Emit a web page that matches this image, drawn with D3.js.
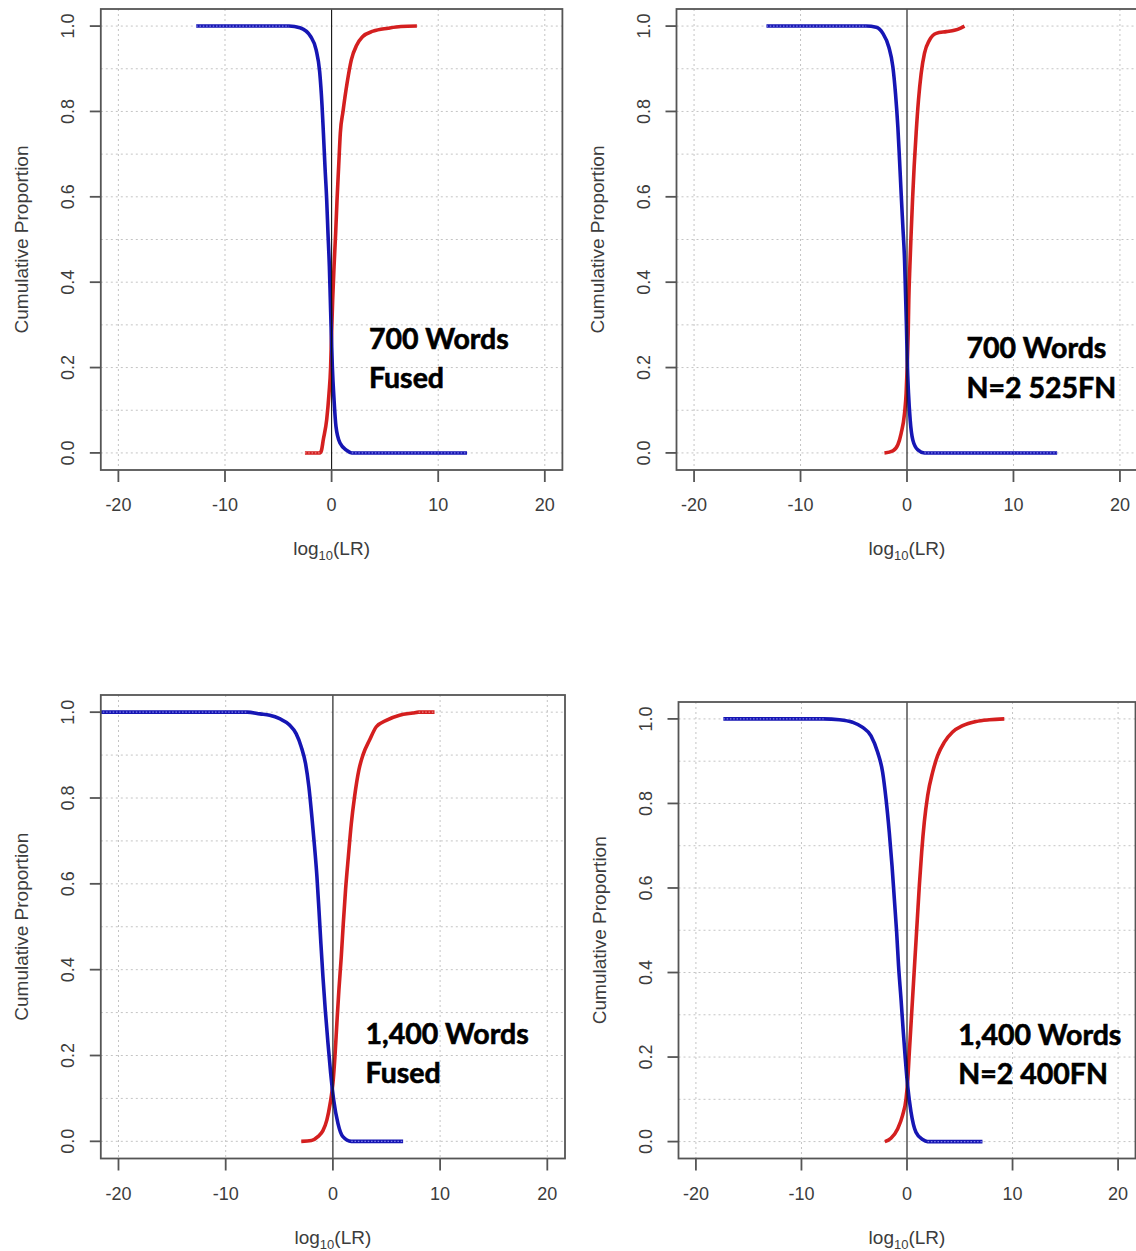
<!DOCTYPE html>
<html>
<head>
<meta charset="utf-8">
<script src="https://cdn.jsdelivr.net/npm/d3@7"></script>
<style>
  html, body { margin: 0; padding: 0; background: #fff; }
  svg { display: block; }
</style>
</head>
<body>
<svg id="chart" width="1136" height="1251"></svg>
<script>
// ---------- data ----------
const xTicks = [-20, -10, 0, 10, 20];
const yTicks = [0, 0.2, 0.4, 0.6, 0.8, 1.0];
const yGrid = [0, 0.1, 0.2, 0.3, 0.4, 0.5, 0.6, 0.7, 0.8, 0.9, 1.0];
const xGrid = [-20, -10, 10, 20];

const titles = [
  ["700 Words", "Fused"],
  ["700 Words", "N=2 525FN"],
  ["1,400 Words", "Fused"],
  ["1,400 Words", "N=2 400FN"]
];

const p1Blue = [[-12.7,1],[-4.0,1],[-2.97,0.996],[-1.95,0.975],[-1.45,0.944],[-1.12,0.893],[-0.9,0.815],[-0.77,0.75],[-0.62,0.67],[-0.46,0.593],[-0.34,0.515],[-0.21,0.437],[-0.12,0.359],[-0.03,0.28],[0.07,0.202],[0.23,0.124],[0.41,0.062],[0.79,0.023],[1.42,0.006],[1.89,0],[12.7,0]];
const p1Red  = [[-2.5,0],[-1.1,0],[-0.95,0.006],[-0.78,0.031],[-0.46,0.078],[-0.24,0.14],[-0.09,0.202],[0,0.28],[0.1,0.359],[0.23,0.437],[0.38,0.515],[0.51,0.593],[0.66,0.67],[0.82,0.75],[1.07,0.8],[1.45,0.866],[1.85,0.921],[2.35,0.955],[2.9,0.975],[3.9,0.988],[5.3,0.995],[6.5,0.999],[8.0,1]];

const p2Blue = [[-13.2,1],[-3.83,1],[-2.9,0.997],[-2.27,0.983],[-1.71,0.951],[-1.33,0.905],[-1.08,0.842],[-0.86,0.764],[-0.7,0.686],[-0.55,0.608],[-0.39,0.53],[-0.23,0.452],[-0.14,0.374],[-0.05,0.296],[0.02,0.218],[0.14,0.14],[0.3,0.077],[0.55,0.03],[1.02,0.007],[1.64,0],[14.1,0]];
const p2Red  = [[-2.12,0],[-1.33,0.005],[-0.86,0.019],[-0.55,0.046],[-0.23,0.093],[-0.08,0.14],[0.02,0.202],[0.11,0.28],[0.17,0.359],[0.27,0.437],[0.39,0.515],[0.52,0.593],[0.67,0.67],[0.86,0.75],[1.08,0.827],[1.33,0.889],[1.64,0.936],[2.11,0.967],[2.74,0.983],[3.68,0.987],[4.46,0.99],[5.09,0.996],[5.4,1]];

const p3Blue = [[-23,1],[-8.0,1],[-6.8,0.996],[-5.9,0.993],[-4.97,0.985],[-4.04,0.97],[-3.43,0.95],[-2.95,0.919],[-2.55,0.88],[-2.24,0.826],[-1.96,0.756],[-1.71,0.686],[-1.49,0.617],[-1.3,0.539],[-1.12,0.461],[-0.93,0.384],[-0.71,0.306],[-0.46,0.229],[-0.21,0.159],[0.07,0.097],[0.47,0.042],[0.93,0.011],[1.71,0],[6.55,0]];
const p3Red  = [[-2.95,0],[-2.0,0.002],[-1.4,0.011],[-0.93,0.025],[-0.56,0.05],[-0.25,0.089],[0,0.135],[0.19,0.197],[0.37,0.275],[0.56,0.353],[0.78,0.43],[0.97,0.508],[1.18,0.586],[1.44,0.663],[1.72,0.741],[2.02,0.803],[2.42,0.865],[2.8,0.9],[3.42,0.935],[4.05,0.966],[4.98,0.981],[6.22,0.993],[7.46,0.998],[8.0,1],[9.48,1]];

const p4Blue = [[-17.4,1],[-7.9,1],[-6.4,0.998],[-5.16,0.992],[-4.2,0.98],[-3.41,0.96],[-2.78,0.921],[-2.31,0.874],[-1.99,0.811],[-1.68,0.732],[-1.42,0.653],[-1.2,0.574],[-0.98,0.495],[-0.8,0.416],[-0.57,0.338],[-0.35,0.259],[-0.16,0.196],[0.06,0.132],[0.38,0.07],[0.85,0.022],[1.48,0.005],[1.95,0],[7.15,0]];
const p4Red  = [[-2.1,0],[-1.52,0.008],[-0.89,0.03],[-0.42,0.062],[-0.09,0.101],[0.06,0.141],[0.22,0.211],[0.41,0.29],[0.6,0.369],[0.79,0.448],[0.98,0.527],[1.17,0.606],[1.39,0.685],[1.64,0.756],[1.96,0.819],[2.43,0.874],[2.9,0.913],[3.54,0.945],[4.32,0.969],[5.27,0.984],[6.54,0.994],[7.8,0.998],[9.22,1]];

// annotation anchor in data units [x, y line1, y line2]
const notePos = [[3.5,0.244,0.152],[5.59,0.222,0.129],[3.05,0.227,0.136],[4.86,0.229,0.137]];

// ---------- layout ----------
const xDomain = [-21.65, 21.65];
const yDomain = [-0.04, 1.04];
const panels = [
  {left:100.8, top:9,   w:461.6, h:461,   blue:p1Blue, red:p1Red},
  {left:676.5, top:9,   w:461,   h:461,   blue:p2Blue, red:p2Red},
  {left:100.8, top:695, w:464.2, h:463.5, blue:p3Blue, red:p3Red},
  {left:678.5, top:702, w:457,   h:456.5, blue:p4Blue, red:p4Red}
];

const BLUE = "#1616b4", BLUE_L = "#8c8cf0";
const RED = "#d41f1f", RED_L = "#f09090";
const AXC = "#555";
const TXT = "#3c3c3c";
const FONT = "'Liberation Sans', Arial, sans-serif";

const svg = d3.select("#chart");
svg.append("rect").attr("width",1136).attr("height",1251).attr("fill","#fff");

panels.forEach((p, i) => {
  const x = d3.scaleLinear().domain(xDomain).range([p.left, p.left + p.w]);
  const y = d3.scaleLinear().domain(yDomain).range([p.top + p.h, p.top]);
  const g = svg.append("g");

  const clipId = "clip" + i;
  svg.append("clipPath").attr("id", clipId)
    .append("rect").attr("x", p.left).attr("y", p.top).attr("width", p.w).attr("height", p.h);

  // grid
  g.append("g").selectAll("line.hg").data(yGrid).join("line")
    .attr("x1", p.left).attr("x2", p.left + p.w)
    .attr("y1", d => y(d)).attr("y2", d => y(d))
    .attr("stroke", "#c4c4c4").attr("stroke-width", 1).attr("stroke-dasharray", "2,3");
  g.append("g").selectAll("line.vg").data(xGrid).join("line")
    .attr("x1", d => x(d)).attr("x2", d => x(d))
    .attr("y1", p.top).attr("y2", p.top + p.h)
    .attr("stroke", "#c4c4c4").attr("stroke-width", 1).attr("stroke-dasharray", "2,3");

  // curves
  const line = d3.line().x(d => x(d[0])).y(d => y(d[1])).curve(d3.curveMonotoneX);
  const flatLine = d3.line().x(d => x(d[0])).y(d => y(d[1]));
  const cg = g.append("g").attr("clip-path", `url(#${clipId})`);
  [[p.red, RED, RED_L], [p.blue, BLUE, BLUE_L]].forEach(([data, col, light]) => {
    cg.append("path").datum(data).attr("d", line)
      .attr("fill", "none").attr("stroke", col).attr("stroke-width", 3.6)
      .attr("stroke-linejoin", "round").attr("stroke-linecap", "butt");
    // flat parts show the plotted points as a lighter dotted texture
    const flats = [];
    for (let k = 0; k < data.length - 1; k++) {
      if (data[k][1] === data[k+1][1]) flats.push([data[k], data[k+1]]);
    }
    cg.selectAll(null).data(flats).join("path")
      .attr("d", flatLine).attr("fill", "none").attr("stroke", light)
      .attr("stroke-width", 1.2).attr("stroke-dasharray", "1.5,1.8").attr("opacity", 0.9);
  });

  // vertical line at 0
  g.append("line").attr("x1", x(0)).attr("x2", x(0))
    .attr("y1", p.top).attr("y2", p.top + p.h)
    .attr("stroke", "#111").attr("stroke-width", 1.1);

  // box
  g.append("rect").attr("x", p.left).attr("y", p.top).attr("width", p.w).attr("height", p.h)
    .attr("fill", "none").attr("stroke", AXC).attr("stroke-width", 1.8);

  // x axis ticks & labels
  const bottom = p.top + p.h;
  g.append("g").selectAll("line").data(xTicks).join("line")
    .attr("x1", d => x(d)).attr("x2", d => x(d))
    .attr("y1", bottom).attr("y2", bottom + 12)
    .attr("stroke", AXC).attr("stroke-width", 1.8);
  g.append("g").selectAll("text").data(xTicks).join("text")
    .attr("x", d => x(d)).attr("y", bottom + 41)
    .attr("text-anchor", "middle").attr("font-family", FONT).attr("font-size", 18)
    .attr("fill", TXT).text(d => String(d));

  // y axis ticks & labels
  g.append("g").selectAll("line").data(yTicks).join("line")
    .attr("x1", p.left - 11).attr("x2", p.left)
    .attr("y1", d => y(d)).attr("y2", d => y(d))
    .attr("stroke", AXC).attr("stroke-width", 1.8);
  g.append("g").selectAll("text").data(yTicks).join("text")
    .attr("transform", d => `translate(${p.left - 27},${y(d)}) rotate(-90)`)
    .attr("text-anchor", "middle").attr("font-family", FONT).attr("font-size", 18)
    .attr("fill", TXT).text(d => d.toFixed(1));

  // axis titles
  const xt = g.append("text").attr("x", x(0)).attr("y", bottom + 85)
    .attr("text-anchor", "middle").attr("font-family", FONT).attr("font-size", 19).attr("fill", TXT);
  xt.append("tspan").text("log");
  xt.append("tspan").attr("font-size", 13).attr("dy", 5).text("10");
  xt.append("tspan").attr("dy", -5).text("(LR)");

  g.append("text")
    .attr("transform", `translate(${p.left - 73},${p.top + p.h / 2}) rotate(-90)`)
    .attr("text-anchor", "middle").attr("font-family", FONT).attr("font-size", 19)
    .attr("fill", TXT).text("Cumulative Proportion");

  // annotation
  const np = notePos[i];
  [titles[i][0], titles[i][1]].forEach((t, j) => {
    g.append("text").attr("x", x(np[0])).attr("y", y(np[1 + j]))
      .attr("font-family", "Lato, 'Open Sans', sans-serif").attr("font-weight", 700)
      .attr("font-size", 28.5).attr("fill", "#000")
      .attr("stroke", "#000").attr("stroke-width", 0.6).attr("paint-order", "stroke")
      .text(t);
  });
});
</script>
</body>
</html>
